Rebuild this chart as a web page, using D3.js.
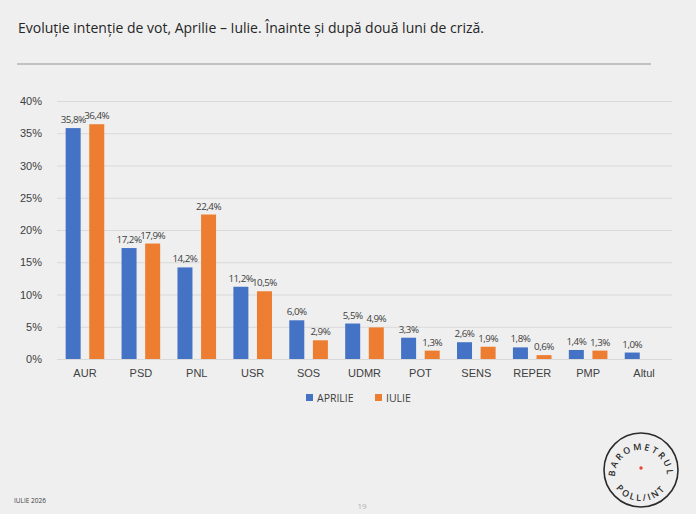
<!DOCTYPE html>
<html>
<head>
<meta charset="utf-8">
<script src="https://cdn.jsdelivr.net/npm/d3@7"></script>
<style>
  body { margin: 0; background: #efefef; }
  svg { display: block; font-family: "Open Sans", "Noto Sans", sans-serif; }
  .grid line { stroke: #d9d9d9; }
  .grid path { display: none; }
  .axis text { fill: #404040; font-size: 11px; }
  .axis path, .axis line { display: none; }
  .val { fill: #404040; font-size: 9.8px; text-anchor: middle; letter-spacing: -0.5px; }
</style>
</head>
<body>
<div id="chart"></div>
<script>
// data
var parties = ["AUR", "PSD", "PNL", "USR", "SOS", "UDMR", "POT", "SENS", "REPER", "PMP", "Altul"];
var aprilie = [35.8, 17.2, 14.2, 11.2, 6.0, 5.5, 3.3, 2.6, 1.8, 1.4, 1.0];
var iulie = [36.4, 17.9, 22.4, 10.5, 2.9, 4.9, 1.3, 1.9, 0.6, 1.3, null];
var seriesNames = ["APRILIE", "IULIE"];
var seriesColors = ["#4472c4", "#ed7d31"];
var yTicks = [0, 5, 10, 15, 20, 25, 30, 35, 40];

var W = 696, H = 514;
var mLeft = 57, mRight = 672, mTop = 101, mBottom = 359;

var svg = d3.select("#chart").append("svg")
    .attr("width", W)
    .attr("height", H);

// title + rule
svg.append("text")
    .attr("x", 18).attr("y", 33)
    .attr("fill", "#262626")
    .style("font-size", "14px")
    .text("Evoluție intenție de vot, Aprilie – Iulie. Înainte și după două luni de criză.");

svg.append("line")
    .attr("x1", 17).attr("x2", 651)
    .attr("y1", 64).attr("y2", 64)
    .attr("stroke", "#b3b3b3")
    .attr("stroke-width", 1.5);

// scales
var x = d3.scaleBand().domain(parties).range([mLeft, mRight]);
var y = d3.scaleLinear().domain([0, 40]).range([mBottom, mTop]);
var barW = 15, gap = 8.6;

// gridlines
svg.append("g")
    .attr("class", "grid")
    .attr("transform", "translate(" + mLeft + ",0)")
    .call(d3.axisLeft(y).tickValues(yTicks).tickSize(-(mRight - mLeft)).tickFormat(""));

// y axis labels
svg.append("g")
    .attr("class", "axis")
    .attr("transform", "translate(" + (mLeft - 12) + ",0)")
    .call(d3.axisLeft(y).tickValues(yTicks).tickFormat(d => d + "%").tickSize(0));

// x axis labels
svg.append("g")
    .attr("class", "axis")
    .attr("transform", "translate(0," + (mBottom + 7) + ")")
    .call(d3.axisBottom(x).tickSize(0));

var rows = [];
parties.forEach(function (p, i) {
    [aprilie[i], iulie[i]].forEach(function (v, s) {
        if (v != null) rows.push({ party: p, s: s, v: v });
    });
});

function barX(d) {
    var c = x(d.party) + x.bandwidth() / 2;
    return d.s === 0 ? c - gap / 2 - barW : c + gap / 2;
}

svg.append("g").selectAll("rect")
    .data(rows)
    .join("rect")
    .attr("x", barX)
    .attr("y", d => y(d.v))
    .attr("width", barW)
    .attr("height", d => y(0) - y(d.v))
    .attr("fill", d => seriesColors[d.s]);

svg.append("g").selectAll("text")
    .data(rows)
    .join("text")
    .attr("class", "val")
    .attr("x", d => barX(d) + barW / 2)
    .attr("y", d => y(d.v) - 5)
    .text(d => d.v.toFixed(1).replace(".", ",") + "%");

// legend
var legend = svg.append("g").attr("transform", "translate(306,398)");
var lx = [0, 69];
seriesNames.forEach(function (n, i) {
    var g = legend.append("g").attr("transform", "translate(" + lx[i] + ",0)");
    g.append("rect").attr("x", 0).attr("y", -4).attr("width", 7).attr("height", 7).attr("fill", seriesColors[i]);
    g.append("text").attr("x", 11).attr("y", 3.5).attr("fill", "#404040").style("font-size", "10.5px").text(n);
});

// footer
svg.append("text").attr("x", 14).attr("y", 503)
    .attr("fill", "#404040").style("font-size", "6.5px").text("IULIE 2026");
svg.append("text").attr("x", 362).attr("y", 509).attr("text-anchor", "middle")
    .attr("fill", "#b0b0b0").style("font-size", "8px").text("19");

// logo
var logo = svg.append("g").attr("transform", "translate(641,470)");
logo.append("circle").attr("r", 37).attr("fill", "none").attr("stroke", "#2b2b2b").attr("stroke-width", 1.6);
logo.append("circle").attr("cy", -2).attr("r", 1.7).attr("fill", "#e8462e");
var defs = svg.append("defs");
defs.append("path").attr("id", "arcTop").attr("d", "M -26 6 A 26 26 0 1 1 26 6");
defs.append("path").attr("id", "arcBot").attr("d", "M -31 0 A 31 31 0 0 0 31 0");
logo.append("text").style("font-size", "9px").style("font-weight", "600").attr("fill", "#2b2b2b").attr("letter-spacing", "2.2px")
    .append("textPath").attr("href", "#arcTop").attr("startOffset", "50%").attr("text-anchor", "middle").text("BAROMETRUL");
logo.append("text").style("font-size", "9px").style("font-weight", "600").attr("fill", "#2b2b2b").attr("letter-spacing", "2.2px")
    .append("textPath").attr("href", "#arcBot").attr("startOffset", "50%").attr("text-anchor", "middle").text("POLL/INT");
</script>
</body>
</html>
